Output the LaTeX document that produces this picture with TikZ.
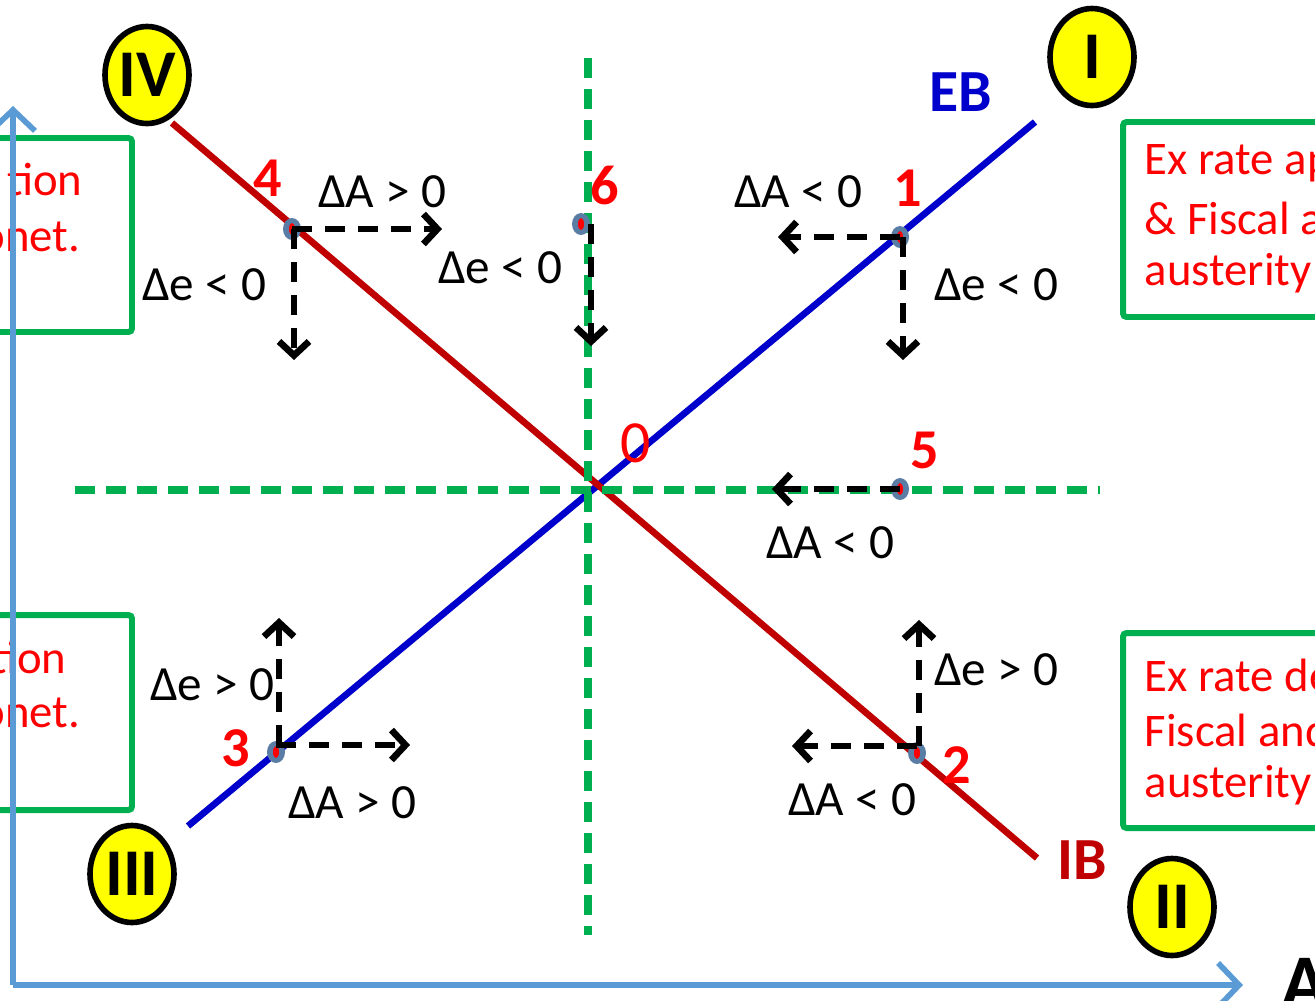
\documentclass[tikz,border=0pt]{standalone}
\usepackage{fontspec}
\setmainfont{Carlito}
\usetikzlibrary{arrows.meta,positioning,shapes.geometric}
\definecolor{axisblue}{HTML}{5B9BD5}
\definecolor{ebblue}{HTML}{0000CC}
\definecolor{ibred}{HTML}{C00000}
\definecolor{guide}{HTML}{00B050}
\definecolor{dotblue}{HTML}{5A7DA6}
\definecolor{quadyellow}{HTML}{FFFF00}

\begin{document}
\begin{tikzpicture}[x=0.1mm,y=-0.1mm,font=\fontsize{14}{16}\selectfont,
  axisline/.style={axisblue,line width=1.6pt,-{Straight Barb[length=2.1mm,width=4.4mm]}},
  guideline/.style={guide,line width=2pt,dash pattern=on 2mm off 1.1mm},
  curveline/.style={line width=1.9pt},
  policybox/.style={guide,line width=1.7pt,rounded corners=1pt},
  boxtext/.style={text=red,inner sep=0pt,font=\fontsize{13.3}{15}\selectfont},
  ptmark/.style={ellipse,fill=dotblue,minimum width=1.8mm,minimum height=2.2mm,inner sep=0pt,
    path picture={\fill[red] (path picture bounding box.center) ellipse [x radius=0.3mm,y radius=0.6mm];}},
  ptlabel/.style={text=red,font=\bfseries\fontsize{16}{18}\selectfont},
  shiftarrow/.style={black,line width=1.9pt,dash pattern=on 2mm off 1.3mm,-{Straight Barb[length=1.4mm,width=3mm]}},
  quadrant/.style={ellipse,draw=black,line width=1.6pt,fill=quadyellow,minimum width=8.4mm,minimum height=9.7mm,
    inner sep=0pt,font=\bfseries\fontsize{19}{21}\selectfont}]
\useasboundingbox (0,0) rectangle (1315,1000);

% policy boxes (cut by the page edge)
\draw[policybox] (-20,138) rectangle (132,332);
\draw[policybox] (-20,615) rectangle (132,810);
\draw[policybox] (1123,122) rectangle (1340,317);
\draw[policybox] (1123,633) rectangle (1340,828);
\node[boxtext,anchor=east] (tlone) at (83,180) {tion};
\node[boxtext,anchor=east] (tltwo) at (81,237) {onet.};
\node[boxtext,anchor=east] (blone) at (67,657) {tion};
\node[boxtext,anchor=east] (bltwo) at (81,713) {onet.};
\node[boxtext,anchor=west] (trone) at (1144,163) {Ex rate ap};
\node[boxtext,anchor=west] (trtwo) at (1144,218) {\& Fiscal a};
\node[boxtext,anchor=west] (trthree) at (1144,273) {austerity};
\node[boxtext,anchor=west] (brone) at (1144,675) {Ex rate de};
\node[boxtext,anchor=west] (brtwo) at (1144,730) {Fiscal and};
\node[boxtext,anchor=west] (brthree) at (1144,785) {austerity};

% axes
\coordinate (corner) at (13,985);
\coordinate (ytip) at (13,106);
\coordinate (xtip) at (1243,985);
\draw[axisline] (corner) -- (ytip);
\draw[axisline] (corner) -- (xtip);
\node[font=\bfseries\fontsize{22}{24}\selectfont,anchor=base west,inner sep=0pt] (alabel) at (1281,1008) {A};

% EB and IB schedules
\coordinate (eblow) at (188,826);
\coordinate (ebhigh) at (1035,122);
\coordinate (ibhigh) at (172,123);
\coordinate (iblow) at (1037,858);
\draw[curveline,ebblue] (eblow) -- (ebhigh);
\draw[curveline,ibred] (ibhigh) -- (iblow);
\node[text=ebblue,font=\bfseries\fontsize{17}{19}\selectfont] (eb) at (961,92) {EB};
\node[text=ibred,font=\bfseries\fontsize{17}{19}\selectfont] (ib) at (1082,860) {IB};

% green guides through 0
\coordinate (vtop) at (588,58);
\coordinate (vbot) at (588,935);
\coordinate (hleft) at (75,490);
\coordinate (hright) at (1100,490);
\draw[guideline] (vtop) -- (vbot);
\draw[guideline] (hleft) -- (hright);

% points
\node[ptmark] (p1) at (900,237) {};
\node[ptmark] (p2) at (917,753) {};
\node[ptmark] (p3) at (276,752) {};
\node[ptmark] (p4) at (292,229) {};
\node[ptmark] (p5) at (900,489) {};
\node[ptmark] (p6) at (581,224) {};
\node[ptlabel] (n1) at (908,188) {1};
\node[ptlabel] (n2) at (957,765) {2};
\node[ptlabel] (n3) at (236,748) {3};
\node[ptlabel] (n4) at (268,178) {4};
\node[ptlabel] (n5) at (925,450) {5};
\node[ptlabel] (n6) at (605,186) {6};
\node[text=red,font=\fontsize{17}{19}\selectfont] (n0) at (636,443) {0};

% adjustment arrows
\coordinate (a4r) at (442,232);
\coordinate (a4d) at (294,360);
\coordinate (a6d) at (591,346);
\coordinate (a1l) at (778,237);
\coordinate (a1d) at (903,360);
\coordinate (a5l) at (772,489);
\coordinate (a3u) at (279,618);
\coordinate (a3r) at (410,745);
\coordinate (a2l) at (792,746);
\coordinate (a2u) at (919,620);
\draw[shiftarrow] (p4.center) -- (p4.center -| a4r);
\draw[shiftarrow] (a4d |- p4.center) -- (a4d);
\draw[shiftarrow] (a6d |- p6.center) -- (a6d);
\draw[shiftarrow] (p1.center) -- (p1.center -| a1l);
\draw[shiftarrow] (a1d |- p1.center) -- (a1d);
\draw[shiftarrow] (p5.center) -- (a5l);
\draw[shiftarrow] (a3u |- a3r) -- (a3u);
\draw[shiftarrow] (p3.center |- a3r) -- (a3r);
\draw[shiftarrow] (p2.center |- a2l) -- (a2l);
\draw[shiftarrow] (a2u |- a2l) -- (a2u);

% change labels
\node (l4a) at (382,192) {ΔA > 0};
\node (l4e) at (204,285) {Δe < 0};
\node (l6e) at (500,268) {Δe < 0};
\node (l1a) at (798,192) {ΔA < 0};
\node (l1e) at (996,285) {Δe < 0};
\node (l5a) at (830,543) {ΔA < 0};
\node (l3e) at (212,685) {Δe > 0};
\node (l3a) at (352,803) {ΔA > 0};
\node (l2e) at (996,670) {Δe > 0};
\node (l2a) at (852,800) {ΔA < 0};

% quadrants
\node[quadrant] (qI) at (1092,57) {I};
\node[quadrant] (qII) at (1172,907) {II};
\node[quadrant] (qIII) at (132,874) {III};
\node[quadrant] (qIV) at (147,75) {IV};
\end{tikzpicture}
\end{document}
